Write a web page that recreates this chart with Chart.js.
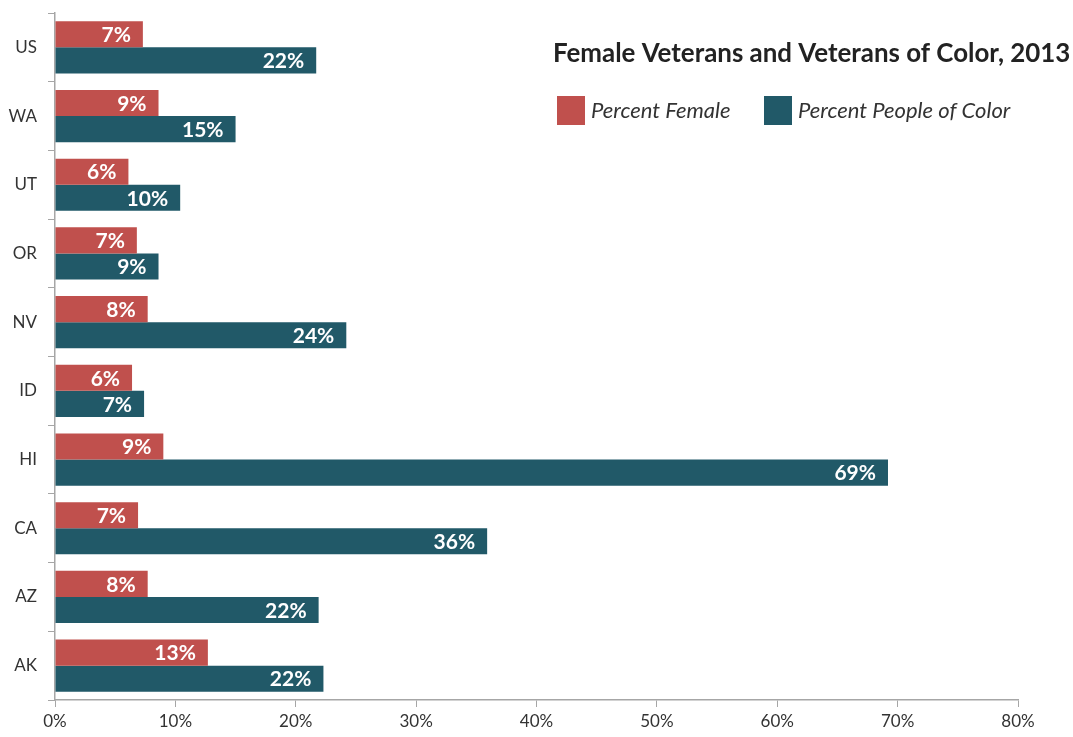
<!DOCTYPE html>
<html>
<head>
<meta charset="utf-8">
<style>
  html, body { margin: 0; padding: 0; background: #fff; }
  canvas { display: block; }
</style>
<script src="https://cdn.jsdelivr.net/npm/chart.js@4/dist/chart.umd.min.js"></script>
</head>
<body>
<canvas id="chart" width="1073" height="737"></canvas>
<script>
// chart data
const states = ['US', 'WA', 'UT', 'OR', 'NV', 'ID', 'HI', 'CA', 'AZ', 'AK'];
const pctFemale = [7.3, 8.6, 6.1, 6.8, 7.7, 6.4, 9.0, 6.9, 7.7, 12.7];
const pctColor = [21.7, 15.0, 10.4, 8.6, 24.2, 7.4, 69.2, 35.9, 21.9, 22.3];
const xTicks = [0, 10, 20, 30, 40, 50, 60, 70, 80];
const chartTitle = 'Female Veterans and Veterans of Color, 2013';

const red = '#C0504D';
const teal = '#215968';

// white labels at the end of each bar
const barLabels = {
    id: 'barLabels',
    afterDatasetsDraw(chart) {
        const ctx = chart.ctx;
        ctx.save();
        ctx.fillStyle = '#fff';
        ctx.font = 'bold 21px Lato';
        ctx.textAlign = 'right';
        ctx.textBaseline = 'middle';
        chart.data.datasets.forEach((ds, i) => {
            chart.getDatasetMeta(i).data.forEach((bar, j) => {
                ctx.fillText(Math.round(ds.data[j]) + '%', bar.x - 12, bar.y + 1);
            });
        });
        ctx.restore();
    }
};

// title and legend drawn inside the plot, top right
const titleLegend = {
    id: 'titleLegend',
    afterDraw(chart) {
        const ctx = chart.ctx;
        ctx.save();
        ctx.fillStyle = '#222';
        ctx.font = 'bold 25.9px Lato';
        ctx.textAlign = 'left';
        ctx.textBaseline = 'middle';
        ctx.fillText(chartTitle, 553, 54);

        const items = [[557, red, 'Percent Female'], [764, teal, 'Percent People of Color']];
        ctx.font = 'italic 22px Lato';
        items.forEach(it => {
            ctx.fillStyle = it[1];
            ctx.fillRect(it[0], 96, 28, 29);
            ctx.fillStyle = '#333';
            ctx.fillText(it[2], it[0] + 34, 111);
        });
        ctx.restore();
    }
};

new Chart(document.getElementById('chart'), {
    type: 'bar',
    data: {
        labels: states,
        datasets: [
            { label: 'Percent Female', data: pctFemale, backgroundColor: red },
            { label: 'Percent People of Color', data: pctColor, backgroundColor: teal }
        ]
    },
    options: {
        indexAxis: 'y',
        responsive: false,
        animation: false,
        layout: { padding: { top: 13, right: 55, bottom: 0, left: 0 } },
        datasets: { bar: { categoryPercentage: 0.76, barPercentage: 1.0 } },
        plugins: {
            legend: { display: false },
            title: { display: false },
            tooltip: { enabled: false }
        },
        scales: {
            x: {
                min: 0,
                max: 80,
                afterBuildTicks: scale => { scale.ticks = xTicks.map(v => ({ value: v })); },
                afterFit: scale => { scale.height = 37; },
                border: { color: '#A6A6A6', width: 1.5 },
                grid: { drawOnChartArea: false, tickLength: 7, color: '#A6A6A6' },
                ticks: {
                    color: '#333',
                    font: { family: 'Lato', size: 17 },
                    padding: 4,
                    callback: v => v + '%'
                }
            },
            y: {
                afterFit: scale => {
                    scale.width = 55;
                    scale.paddingTop = 0;
                    scale.paddingBottom = 0;
                },
                border: { color: '#A6A6A6', width: 1.5 },
                grid: { drawOnChartArea: false, offset: true, tickLength: 7, color: '#A6A6A6' },
                ticks: {
                    color: '#333',
                    font: { family: 'Lato', size: 17 },
                    padding: 11
                }
            }
        }
    },
    plugins: [barLabels, titleLegend]
});
</script>
</body>
</html>
